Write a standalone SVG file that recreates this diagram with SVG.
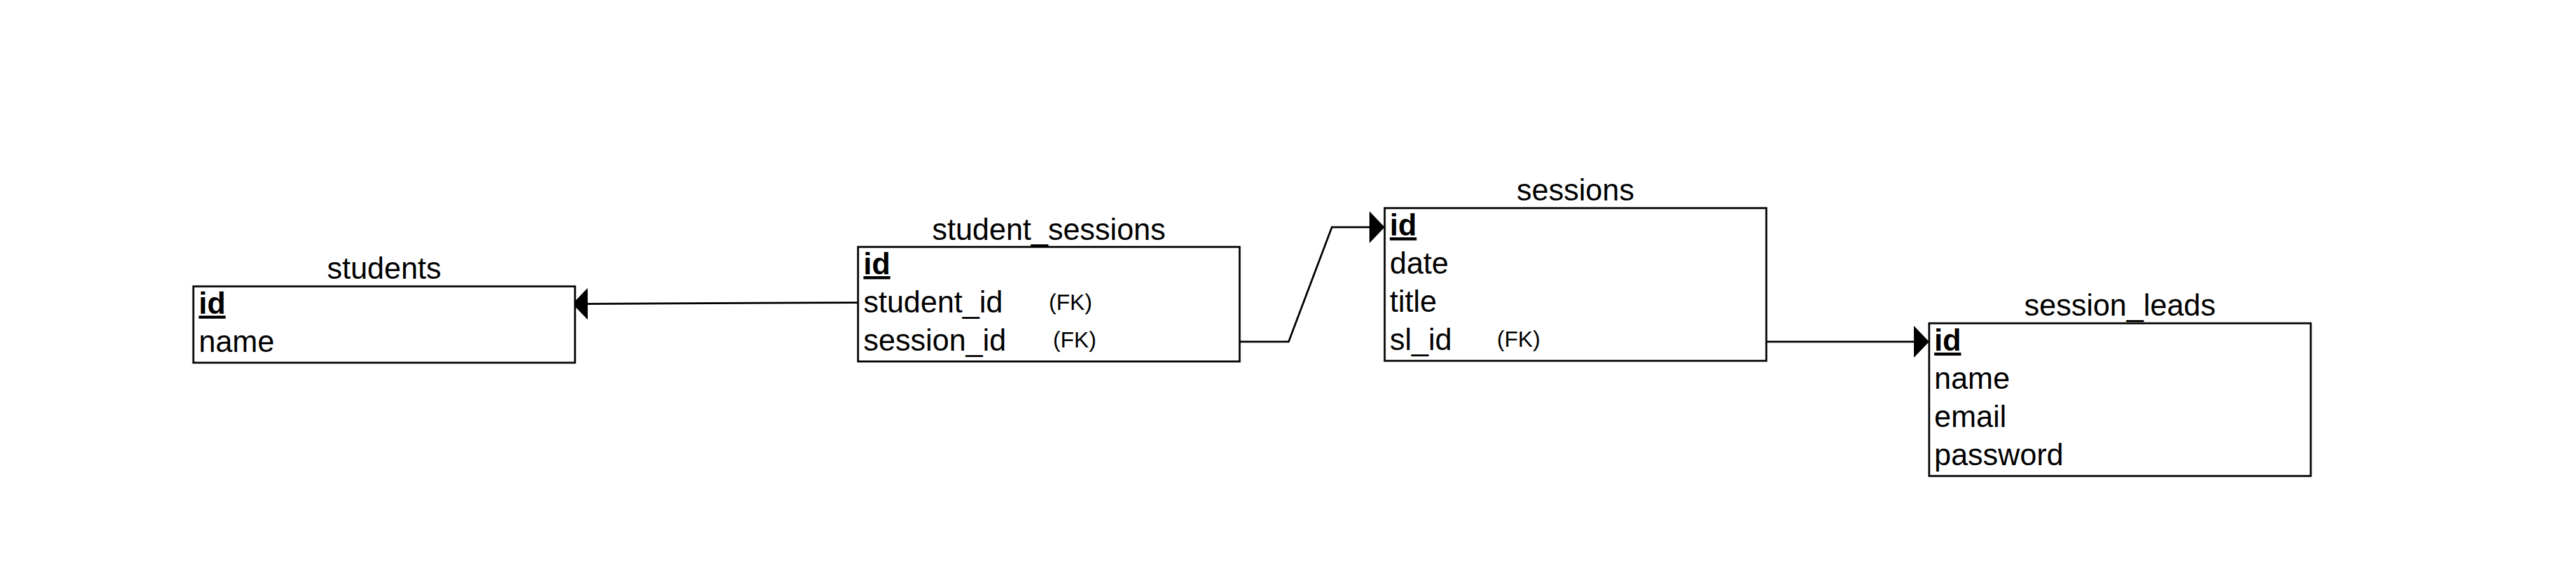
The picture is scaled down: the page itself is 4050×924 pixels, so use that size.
<svg xmlns="http://www.w3.org/2000/svg" width="4050" height="924" viewBox="0 0 4050 924">
<style>
.box{fill:#ffffff;stroke:#000000;stroke-width:3}
.t{font-family:"Liberation Sans",Arial,sans-serif;font-size:47.5px;fill:#000000}
.lbl{text-anchor:middle}
.pk{font-weight:bold;text-decoration:underline}
.fk{font-family:"Liberation Sans",Arial,sans-serif;font-size:35px;fill:#000000}
.edge{fill:none;stroke:#000000;stroke-width:3}
</style>
<defs>
<marker id="arrow" markerUnits="userSpaceOnUse" viewBox="0 0 24 50" refX="0" refY="25" markerWidth="24" markerHeight="50" orient="auto">
<path d="M0,0 L24,25 L0,50 Z" fill="#000000"/>
</marker>
</defs>
<rect x="0" y="0" width="4050" height="924" fill="#ffffff"/>
<g id="connectors">
<path class="edge" d="M1349,475.5 L924,477.5" marker-end="url(#arrow)"/>
<path class="edge" d="M1949,537 L2026,537 L2094,357 L2153,357" marker-end="url(#arrow)"/>
<path class="edge" d="M2777,537 L3009,537" marker-end="url(#arrow)"/>
</g>
<g id="students">
<text class="t lbl" x="604" y="438">students</text>
<rect class="box" x="304" y="450" width="600" height="120"/>
<text class="t pk" x="312.5" y="493">id</text>
<text class="t" x="312.5" y="553">name</text>
</g>
<g id="student_sessions">
<text class="t lbl" x="1649" y="376.5">student_sessions</text>
<rect class="box" x="1349" y="388" width="600" height="180"/>
<text class="t pk" x="1357.5" y="431">id</text>
<text class="t" x="1357.5" y="491">student_id</text>
<text class="fk" x="1649" y="487">(FK)</text>
<text class="t" x="1357.5" y="551">session_id</text>
<text class="fk" x="1655.5" y="546">(FK)</text>
</g>
<g id="sessions">
<text class="t lbl" x="2477" y="315">sessions</text>
<rect class="box" x="2177" y="327" width="600" height="240"/>
<text class="t pk" x="2185" y="370">id</text>
<text class="t" x="2185" y="430">date</text>
<text class="t" x="2185" y="490">title</text>
<text class="t" x="2185" y="550">sl_id</text>
<text class="fk" x="2353.5" y="545">(FK)</text>
</g>
<g id="session_leads">
<text class="t lbl" x="3333" y="495.5">session_leads</text>
<rect class="box" x="3033" y="508" width="600" height="240"/>
<text class="t pk" x="3041" y="551">id</text>
<text class="t" x="3041" y="611">name</text>
<text class="t" x="3041" y="671">email</text>
<text class="t" x="3041" y="731">password</text>
</g>
</svg>
